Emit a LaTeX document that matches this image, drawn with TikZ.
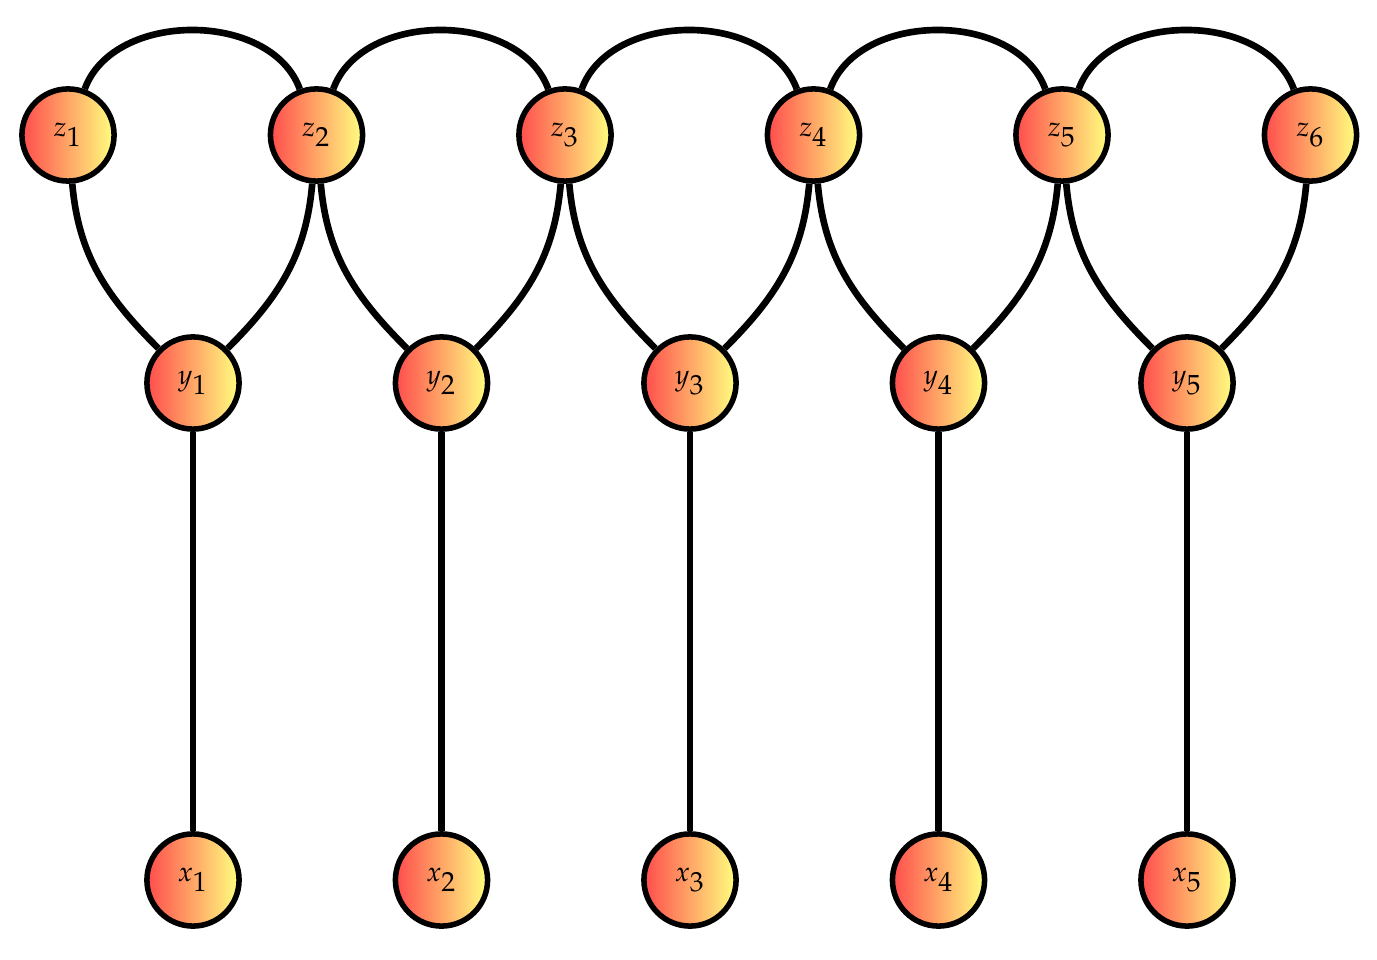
\documentclass[tikz,border=0pt]{standalone}
\usepackage{mathpazo}
\begin{document}
\begin{tikzpicture}[x=0.0127cm,y=-0.0127cm,
  vert/.style={circle,draw=black,line width=2pt,minimum size=1.17cm,inner sep=0pt,
    left color=red!70,right color=yellow!50,shading angle=90},
  edge/.style={line width=2.4pt,draw=black}]
\useasboundingbox (0,0) rectangle (1377,960);
\foreach \i in {1,...,6}{
  \node[vert] (z\i) at ({68+248.5*(\i-1)},135) {$z_{\textstyle\i}$};
}
\foreach \i in {1,...,5}{
  \node[vert] (y\i) at ({193+248.5*(\i-1)},383) {$y_{\textstyle\i}$};
  \node[vert] (x\i) at ({193+248.5*(\i-1)},880) {$x_{\textstyle\i}$};
}
\foreach \i [evaluate=\i as \j using int(\i+1)] in {1,...,5}{
  \draw[edge] (z\i) to[out=70,in=110] (z\j);
  \draw[edge] (z\i) to[out=-85,in=135] (y\i);
  \draw[edge] (z\j) to[out=-95,in=45] (y\i);
  \draw[edge] (y\i) -- (x\i);
}
\end{tikzpicture}
\end{document}
